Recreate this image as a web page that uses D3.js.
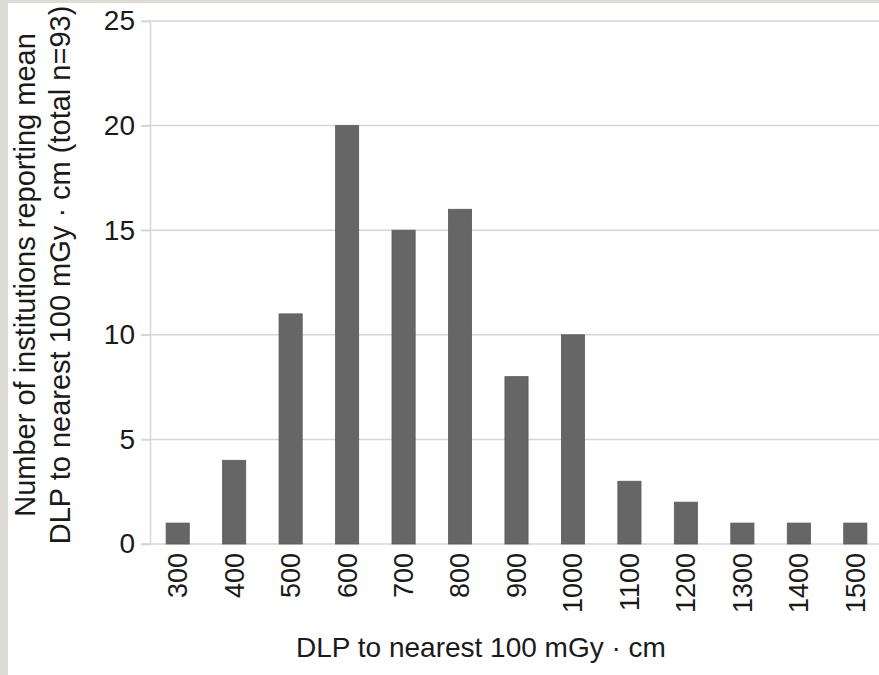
<!DOCTYPE html>
<html>
<head>
<meta charset="utf-8">
<script src="https://cdn.jsdelivr.net/npm/d3@7"></script>
<style>
  body { margin: 0; background: #dcdcd5; }
  svg { display: block; }
</style>
</head>
<body>
<svg id="chart" width="879" height="675" viewBox="0 0 879 675"></svg>
<script>
const categories = ["300", "400", "500", "600", "700", "800", "900", "1000", "1100", "1200", "1300", "1400", "1500"];
const counts = [1, 4, 11, 20, 15, 16, 8, 10, 3, 2, 1, 1, 1];
const yTicks = [0, 5, 10, 15, 20, 25];

const width = 879;
const height = 675;
const font = "'Liberation Sans', Arial, Helvetica, sans-serif";

const svg = d3.select("#chart");

svg.append("rect")
  .attr("width", width)
  .attr("height", height)
  .attr("fill", "#dcdcd5");

svg.append("rect")
  .attr("x", 8)
  .attr("y", 3)
  .attr("width", width - 8)
  .attr("height", height - 3)
  .attr("fill", "#fff");

const x = d3.scaleBand()
  .domain(categories)
  .range([152, 881])
  .paddingInner(0.59)
  .paddingOuter(0.25);

const y = d3.scaleLinear()
  .domain([0, 25])
  .range([544, 21]);

// gridlines
svg.append("g")
  .selectAll("line")
  .data(yTicks.filter(d => d > 0))
  .join("line")
  .attr("x1", 141)
  .attr("x2", width)
  .attr("y1", d => y(d))
  .attr("y2", d => y(d))
  .attr("stroke", "#d6d6d6")
  .attr("stroke-width", 1.5);

// y axis
svg.append("g")
  .attr("transform", "translate(150,0)")
  .call(d3.axisLeft(y).tickValues(yTicks).tickSize(9).tickPadding(6))
  .call(g => g.select(".domain").attr("stroke", "#d6d6d6").attr("stroke-width", 1.5))
  .call(g => g.selectAll(".tick line").attr("stroke", "#d6d6d6").attr("stroke-width", 1.5))
  .call(g => g.selectAll("text")
    .attr("font-family", font)
    .attr("font-size", 28)
    .attr("fill", "#1a1a1a"));

// baseline
svg.append("line")
  .attr("x1", 141)
  .attr("x2", width)
  .attr("y1", y(0))
  .attr("y2", y(0))
  .attr("stroke", "#d6d6d6")
  .attr("stroke-width", 1.5);

// bars
svg.append("g")
  .selectAll("rect")
  .data(categories)
  .join("rect")
  .attr("x", d => x(d))
  .attr("width", x.bandwidth())
  .attr("y", (d, i) => y(counts[i]))
  .attr("height", (d, i) => y(0) - y(counts[i]))
  .attr("fill", "#666")
  .attr("stroke", "#5a5a5a")
  .attr("stroke-width", 0.8);

// x axis labels
svg.append("g")
  .attr("transform", `translate(0,${y(0)})`)
  .call(d3.axisBottom(x).tickSize(0).tickPadding(0))
  .call(g => g.select(".domain").remove())
  .call(g => g.selectAll("text")
    .attr("font-family", font)
    .attr("font-size", 27)
    .attr("fill", "#1a1a1a")
    .attr("transform", "rotate(-90)")
    .attr("text-anchor", "end")
    .attr("dy", "0.35em")
    .attr("x", -9)
    .attr("y", 0));

// x title
svg.append("text")
  .attr("x", 481)
  .attr("y", 657)
  .attr("text-anchor", "middle")
  .attr("font-family", font)
  .attr("font-size", 28)
  .attr("fill", "#1a1a1a")
  .text("DLP to nearest 100 mGy · cm");

// y title
const yTitle = ["Number of institutions reporting mean", "DLP to nearest 100 mGy · cm (total n=93)"];
svg.append("g")
  .selectAll("text")
  .data(yTitle)
  .join("text")
  .attr("transform", (d, i) => `translate(${35 + i * 35},275) rotate(-90)`)
  .attr("text-anchor", "middle")
  .attr("font-family", font)
  .attr("font-size", 29)
  .attr("fill", "#1a1a1a")
  .text(d => d);
</script>
</body>
</html>
